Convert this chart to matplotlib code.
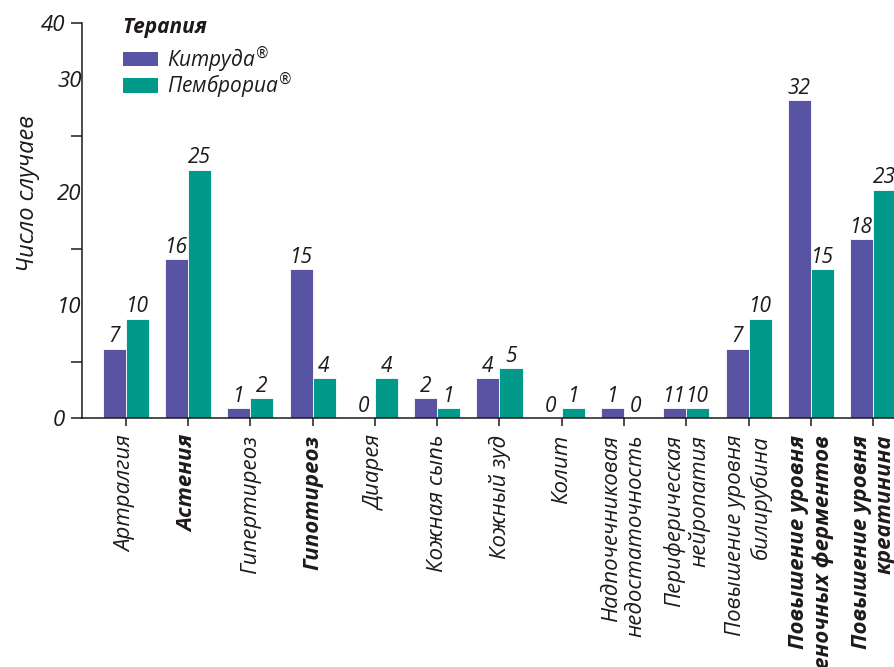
import numpy as np
import matplotlib
matplotlib.use("Agg")
import matplotlib.pyplot as plt
from matplotlib.patches import Patch

# ---------------- data ----------------
categories = [
    "Артралгия", "Астения", "Гипертиреоз", "Гипотиреоз", "Диарея",
    "Кожная сыпь", "Кожный зуд", "Колит",
    "Надпочечниковая\nнедостаточность", "Периферическая\nнейропатия",
    "Повышение уровня\nбилирубина",
    "Повышение уровня\nпеченочных ферментов",
    "Повышение уровня\nкреатинина",
]
bold_categories = ["Астения", "Гипотиреоз",
                   "Повышение уровня\nпеченочных ферментов",
                   "Повышение уровня\nкреатинина"]
keytruda = [7, 16, 1, 15, 0, 2, 4, 0, 1, 1, 7, 32, 18]
pembroria = [10, 25, 2, 4, 4, 1, 5, 1, 0, 1, 10, 15, 23]
keytruda_labels = ["7", "16", "1", "15", "0", "2", "4", "0", "1", "11", "7", "32", "18"]
pembroria_labels = ["10", "25", "2", "4", "4", "1", "5", "1", "0", "10", "10", "15", "23"]
series_names = ["Китруда$^{\\circledR}$", "Пемброриа$^{\\circledR}$"]
legend_title = "Терапия"
y_label = "Число случаев"
ytick_marks = [0, 5, 15, 25, 35]
ytick_texts = ["0", "10", "20", "30", "40"]
ytick_text_pos = [0, 10, 20, 30, 35]

# ---------------- style ----------------
PURPLE = "#5853a2"
TEAL = "#00998a"
INK = "#1e1a1b"
FAM = ["Open Sans", "Liberation Sans", "DejaVu Sans"]
plt.rcParams["font.family"] = FAM
plt.rcParams["mathtext.fontset"] = "dejavusans"

k = 1.1377  # axis label scale relative to bar scale (as drawn in the reference)

fig = plt.figure(figsize=(8.94, 6.67), dpi=100)
ax = fig.add_axes([81.7 / 894, 1 - 418 / 667, 1 - 81.7 / 894, (418 - 22.7) / 667])

x = np.arange(len(categories))
w = 0.37
b1 = ax.bar(x - w / 2, keytruda, w, color=PURPLE, edgecolor="white", linewidth=0.6, zorder=2)
b2 = ax.bar(x + w / 2, pembroria, w, color=TEAL, edgecolor="white", linewidth=0.6, zorder=2)

for bars, labs in ((b1, keytruda_labels), (b2, pembroria_labels)):
    for rect, lab in zip(bars, labs):
        ax.annotate(lab, (rect.get_x() + rect.get_width() / 2, rect.get_height()),
                    xytext=(0, 1), textcoords="offset points", ha="center", va="bottom",
                    fontsize=15, fontstyle="italic", color=INK, annotation_clip=False)

ax.set_xlim(-0.706, len(categories) - 1 + 0.333)
ax.set_ylim(0, 35 * k)

for s in ("top", "right"):
    ax.spines[s].set_visible(False)
for s in ("left", "bottom"):
    ax.spines[s].set_color(INK)
    ax.spines[s].set_linewidth(1.1)

# y ticks: marks at 0,5,15,25,35 (axis scale); labels as in reference
ax.set_yticks([v * k for v in ytick_marks],
              labels=["0", "", "", "", "40"])
ax.set_yticks([v * k for v in ytick_text_pos[1:4]], labels=ytick_texts[1:4], minor=True)
ax.tick_params(axis="y", which="major", length=8, width=1.1, color=INK, pad=4,
               labelsize=16, labelcolor=INK)
ax.tick_params(axis="y", which="minor", length=0, pad=0, labelsize=16, labelcolor=INK)
for t in ax.get_yticklabels(which="both"):
    t.set_fontstyle("italic")

ax.set_xticks(x, labels=categories, rotation=90, ha="center", va="top",
              multialignment="right")
ax.tick_params(axis="x", length=6, width=1.1, color=INK, pad=6, labelsize=16, labelcolor=INK)
for t, c in zip(ax.get_xticklabels(), categories):
    t.set_fontstyle("italic")
    if c in bold_categories:
        t.set_fontweight("bold")

ax.set_ylabel(y_label, fontsize=17, fontstyle="italic", color=INK)
ax.yaxis.set_label_coords(-0.051, 0.567)

# legend title as its own text, entries via legend
fig.text(122 / 894, 1 - 28 / 667, legend_title, ha="left", va="center", fontsize=15,
         fontstyle="italic", fontweight="bold", color=INK)
handles = [Patch(facecolor=PURPLE), Patch(facecolor=TEAL)]
leg = ax.legend(handles, series_names, loc="upper left",
                bbox_to_anchor=(123 / 894, 1 - 44 / 667), bbox_transform=fig.transFigure,
                frameon=False, borderpad=0, borderaxespad=0, handlelength=1.7,
                handleheight=0.7, handletextpad=0.4, labelspacing=-0.22,
                prop={"size": 15, "style": "italic", "family": FAM})
for t in leg.get_texts():
    t.set_color(INK)

fig.savefig("out.png", dpi=100)
